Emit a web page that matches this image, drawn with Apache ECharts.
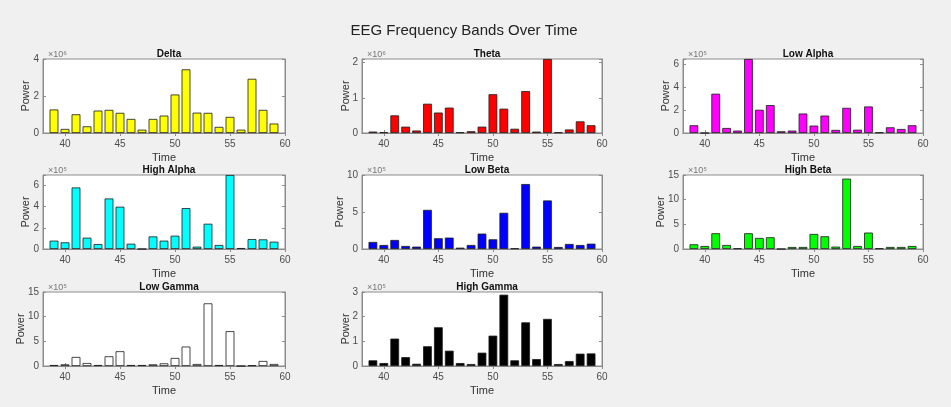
<!DOCTYPE html>
<html>
<head>
<meta charset="utf-8">
<title>EEG Frequency Bands Over Time</title>
<script src="https://cdn.jsdelivr.net/npm/echarts@6/dist/echarts.min.js"></script>
<style>
  html, body { margin: 0; padding: 0; background: #f0f0f0; }
  #chart { width: 951px; height: 407px; }
</style>
</head>
<body>
<div id="chart"></div>
<script>
// time points (x axis)
const times = [39, 40, 41, 42, 43, 44, 45, 46, 47, 48, 49, 50, 51, 52, 53, 54, 55, 56, 57, 58, 59];
const xTicks = [40, 45, 50, 55, 60];

// band power values
const delta = [1.27e6, 0.22e6, 1.01e6, 0.36e6, 1.21e6, 1.25e6, 1.09e6, 0.76e6, 0.18e6, 0.76e6, 0.94e6, 2.08e6, 3.44e6, 1.10e6, 1.09e6, 0.33e6, 0.87e6, 0.18e6, 2.93e6, 1.25e6, 0.51e6];
const theta = [0.04e6, 0.02e6, 0.50e6, 0.18e6, 0.07e6, 0.83e6, 0.58e6, 0.72e6, 0.02e6, 0.05e6, 0.18e6, 1.10e6, 0.69e6, 0.12e6, 1.19e6, 0.04e6, 2.10e6, 0.02e6, 0.10e6, 0.33e6, 0.22e6];
const lowAlpha = [0.68e5, 0, 3.45e5, 0.44e5, 0.21e5, 6.5e5, 2.04e5, 2.45e5, 0.15e5, 0.21e5, 1.71e5, 0.65e5, 1.53e5, 0.27e5, 2.21e5, 0.29e5, 2.33e5, 0.06e5, 0.50e5, 0.35e5, 0.68e5];
const highAlpha = [0.79e5, 0.63e5, 5.82e5, 1.07e5, 0.47e5, 4.78e5, 4.00e5, 0.50e5, 0, 1.19e5, 0.79e5, 1.26e5, 3.87e5, 0.22e5, 2.39e5, 0.38e5, 7.0e5, 0.09e5, 0.94e5, 0.91e5, 0.69e5];
const lowBeta = [0.95e5, 0.54e5, 1.22e5, 0.41e5, 0.32e5, 5.29e5, 1.45e5, 1.54e5, 0.18e5, 0.54e5, 2.08e5, 1.31e5, 4.89e5, 0.09e5, 8.78e5, 0.32e5, 6.56e5, 0.27e5, 0.68e5, 0.54e5, 0.72e5];
const highBeta = [0.95e5, 0.61e5, 3.19e5, 0.81e5, 0.14e5, 3.19e5, 2.24e5, 2.38e5, 0, 0.41e5, 0.41e5, 3.05e5, 2.58e5, 0.48e5, 14.26e5, 0.61e5, 3.33e5, 0.14e5, 0.41e5, 0.41e5, 0.61e5];
const lowGamma = [0.20e5, 0.34e5, 1.83e5, 0.61e5, 0.20e5, 1.97e5, 2.99e5, 0.20e5, 0.20e5, 0.34e5, 0.54e5, 1.63e5, 3.94e5, 0.41e5, 12.70e5, 0.20e5, 7.06e5, 0, 0.14e5, 1.02e5, 0.41e5];
const highGamma = [0.23e5, 0.12e5, 1.11e5, 0.36e5, 0.09e5, 0.80e5, 1.57e5, 0.62e5, 0.12e5, 0.08e5, 0.54e5, 1.23e5, 2.89e5, 0.23e5, 1.77e5, 0.28e5, 1.91e5, 0.08e5, 0.20e5, 0.50e5, 0.51e5];

const bandNames = ["Delta", "Theta", "Low Alpha", "High Alpha", "Low Beta", "High Beta", "Low Gamma", "High Gamma"];
const bandValues = [delta, theta, lowAlpha, highAlpha, lowBeta, highBeta, lowGamma, highGamma];
const yMax = [4e6, 2.1e6, 6.5e5, 7e5, 10e5, 15e5, 15e5, 3e5];
const yStep = [2e6, 1e6, 2e5, 2e5, 5e5, 5e5, 5e5, 1e5];
const yExp = [6, 6, 5, 5, 5, 5, 5, 5];

const barColors = ["#ffff00", "#ff0000", "#ff00ff", "#00ffff", "#0000ff", "#00ff00", "#ffffff", "#000000"];
const supDigits = { 5: "\u2075", 6: "\u2076" };

// subplot layout (3x3 grid, 8 used)
const colLeft = [43, 362, 683];
const colWidth = [242, 240, 240];
const rowTop = [59, 175, 292];
const plotH = 74;
// distance of the "Power" label from the y axis, per subplot
const powerGap = [12, 11, 12, 12, 17, 17, 17, 11];

const FONT = "'Liberation Sans', Arial, Helvetica, sans-serif";
const boxColor = "#8c8c8c";
const textColor = "#4d4d4d";

let grids = [], xAxes = [], yAxes = [], series = [], titles = [];

titles.push({
  text: "EEG Frequency Bands Over Time",
  left: 459, top: 18, textAlign: "center",
  textStyle: { fontFamily: FONT, fontSize: 15, fontWeight: "normal", color: "#222" }
});

bandNames.forEach(function (name, i) {
  const r = Math.floor(i / 3), c = i % 3;
  const left = colLeft[c], top = rowTop[r], w = colWidth[c];
  grids.push({
    left: left, top: top, width: w, height: plotH,
    show: true, backgroundColor: "#ffffff", borderColor: boxColor, borderWidth: 1
  });
  const scale = Math.pow(10, yExp[i]);
  const step = yStep[i];

  // bottom x axis
  xAxes.push({
    gridIndex: i, type: "value", min: 38, max: 60,
    name: "Time", nameLocation: "middle", nameGap: 19,
    nameTextStyle: { fontFamily: FONT, fontSize: 11, color: "#333" },
    axisLine: { show: true, lineStyle: { color: boxColor } },
    axisTick: { show: true, inside: true, length: 3, customValues: xTicks, lineStyle: { color: boxColor } },
    axisLabel: { customValues: xTicks, fontFamily: FONT, fontSize: 10, color: textColor, margin: 6 },
    splitLine: { show: false }
  });
  // top x axis (box ticks)
  xAxes.push({
    gridIndex: i, type: "value", min: 38, max: 60, position: "top",
    axisLine: { show: true, lineStyle: { color: boxColor } },
    axisTick: { show: true, inside: true, length: 3, customValues: xTicks, lineStyle: { color: boxColor } },
    axisLabel: { show: false }, splitLine: { show: false }
  });
  // left y axis
  yAxes.push({
    gridIndex: i, type: "value", min: 0, max: yMax[i], interval: step,
    name: "Power", nameLocation: "middle", nameGap: powerGap[i], nameRotate: 90,
    nameMoveOverlap: false,
    nameTextStyle: { fontFamily: FONT, fontSize: 11, color: "#333" },
    axisLine: { show: true, lineStyle: { color: boxColor } },
    axisTick: { show: true, inside: true, length: 3, lineStyle: { color: boxColor } },
    axisLabel: {
      fontFamily: FONT, fontSize: 10, color: textColor, margin: 4,
      formatter: function (v) {
        const k = v / step;
        if (Math.abs(k - Math.round(k)) > 1e-6) return "";
        return String(Math.round(v / scale));
      }
    },
    splitLine: { show: false }
  });
  // right y axis (box ticks)
  yAxes.push({
    gridIndex: i, type: "value", min: 0, max: yMax[i], interval: step, position: "right",
    axisLine: { show: true, lineStyle: { color: boxColor } },
    axisTick: { show: true, inside: true, length: 3, lineStyle: { color: boxColor } },
    axisLabel: { show: false }, splitLine: { show: false }
  });

  series.push({
    type: "bar", name: name,
    xAxisIndex: 2 * i, yAxisIndex: 2 * i,
    data: times.map(function (t, j) { return [t, bandValues[i][j]]; }),
    barWidth: "80%",
    itemStyle: { color: barColors[i], borderColor: "#1a1a1a", borderWidth: 0.8 },
    emphasis: { disabled: true },
    clip: true
  });

  // subplot title
  titles.push({
    text: name, left: left + w / 2, top: top - 15, textAlign: "center",
    textStyle: { fontFamily: FONT, fontSize: 10, fontWeight: "bold", color: "#111" }
  });
  // exponent label
  titles.push({
    text: "\u00d710" + supDigits[yExp[i]], left: left, top: top - 14,
    textStyle: { fontFamily: FONT, fontSize: 9, fontWeight: "normal", color: "#777" }
  });
});

const chart = echarts.init(document.getElementById("chart"), null, { renderer: "canvas" });
chart.setOption({
  backgroundColor: "#f0f0f0",
  animation: false,
  title: titles,
  grid: grids,
  xAxis: xAxes,
  yAxis: yAxes,
  series: series
});
</script>
</body>
</html>
